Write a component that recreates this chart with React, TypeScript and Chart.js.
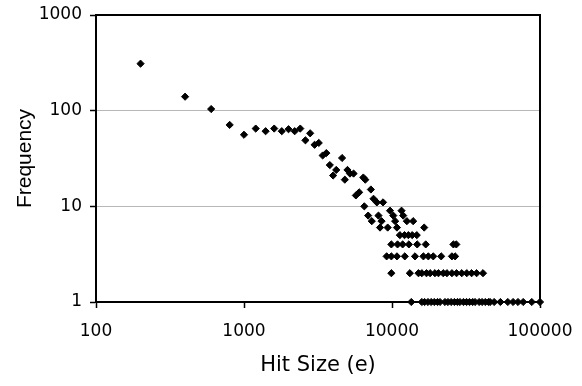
import React, { useEffect, useRef } from "react";
import { Chart, registerables } from "chart.js";

Chart.register(...registerables);

// Main curve (hit size in e, frequency)
const mainHits = [200, 400, 600, 800, 1000, 1200, 1400, 1600, 1800, 2000, 2200, 2400, 2600, 2800, 3000, 3200, 3400, 3600, 3800, 4000, 4200, 4600, 4800, 5000, 5200, 5500, 5700, 6000, 6400, 6600, 6500, 6900, 7200, 7300, 7500, 7900, 8100, 8300, 8500, 8700, 9350, 9700, 10200, 10500, 10800, 11600, 11900, 12600, 13900, 16500];
const mainFreq = [310, 140, 104, 71, 56, 65, 61, 65, 61, 64, 61, 65, 49, 58, 44, 46, 34, 36, 27, 21, 24, 32, 19, 24, 22, 22, 13, 14, 20, 19, 10, 8, 15, 7, 12, 11, 8, 6, 7, 11, 6, 9, 8, 7, 6, 9, 8, 7, 7, 6];

// Hit sizes observed at low frequencies
const freq5Hits = [11300, 12150, 12900, 13700, 14700];
const freq4Hits = [9900, 10900, 11800, 13000, 14800, 16900, 26000, 27200];
const freq3Hits = [9200, 9900, 10800, 12200, 14300, 16300, 17600, 19000, 21500, 25400, 26700];
const freq2Hits = [9900, 13200, 15100, 15900, 17100, 18100, 19500, 20600, 22200, 23500, 25400, 27300, 29600, 32000, 34500, 37300, 41200];
const freq1Hits = [13500, 15900, 16600, 17500, 18400, 19300, 20300, 21100, 22800, 23900, 25100, 26400, 27700, 28800, 30400, 31900, 33400, 35100, 36400, 38800, 40600, 42700, 44900, 46000, 49000, 54000, 60600, 65800, 71000, 77000, 88000, 100000];

const xTicks = [100, 1000, 10000, 100000];
const yTicks = [1, 10, 100, 1000];

const WIDE = "'DejaVu Sans', sans-serif";
const NARROW = "'Liberation Sans', Arial, sans-serif";

export default function App() {
  const ref = useRef<HTMLCanvasElement | null>(null);

  useEffect(() => {
    if (!ref.current) return;
    const points: { x: number; y: number }[] = [];
    mainHits.forEach((x, i) => points.push({ x, y: mainFreq[i] }));
    freq5Hits.forEach((x) => points.push({ x, y: 5 }));
    freq4Hits.forEach((x) => points.push({ x, y: 4 }));
    freq3Hits.forEach((x) => points.push({ x, y: 3 }));
    freq2Hits.forEach((x) => points.push({ x, y: 2 }));
    freq1Hits.forEach((x) => points.push({ x, y: 1 }));

    const boxPlugin = {
      id: "box",
      afterDraw(chart: any) {
        const { ctx, chartArea } = chart;
        ctx.save();
        ctx.strokeStyle = "#000";
        ctx.lineWidth = 2;
        ctx.beginPath();
        ctx.moveTo(chartArea.left, chartArea.top);
        ctx.lineTo(chartArea.right, chartArea.top);
        ctx.lineTo(chartArea.right, chartArea.bottom);
        ctx.stroke();
        ctx.restore();
      },
    };

    const chart = new Chart(ref.current, {
      type: "scatter",
      data: {
        datasets: [
          {
            data: points,
            pointStyle: "rectRot",
            pointRadius: 3.6,
            pointBackgroundColor: "#000",
            pointBorderColor: "#000",
            pointBorderWidth: 1,
            clip: false as any,
          },
        ],
      },
      options: {
        animation: false,
        responsive: true,
        maintainAspectRatio: false,
        layout: { padding: { top: 15, right: 42, left: 0, bottom: 0 } },
        plugins: { legend: { display: false }, tooltip: { enabled: false } },
        scales: {
          x: {
            type: "logarithmic",
            min: 100,
            max: 100000,
            afterBuildTicks: (s: any) => {
              s.ticks = xTicks.map((v) => ({ value: v }));
            },
            afterFit: (s: any) => {
              s.height = 84;
              s.paddingLeft = 0;
              s.paddingRight = 0;
              s.paddingTop = 0;
              s.paddingBottom = 0;
            },
            ticks: {
              callback: (v: any) => String(v),
              color: "#000",
              font: { family: WIDE, size: 17 },
              padding: 13,
              autoSkip: false,
              maxRotation: 0,
            },
            grid: {
              drawOnChartArea: false,
              tickLength: 6,
              tickColor: "#000",
              tickWidth: 1.5,
            },
            border: { display: true, color: "#000", width: 2 },
            title: {
              display: true,
              text: "Hit Size (e)",
              color: "#000",
              font: { family: WIDE, size: 21 },
              padding: { top: 0, bottom: 8 },
            },
          },
          y: {
            type: "logarithmic",
            min: 1,
            max: 1000,
            afterBuildTicks: (s: any) => {
              s.ticks = yTicks.map((v) => ({ value: v }));
            },
            afterFit: (s: any) => {
              s.width = 96;
              s.paddingLeft = 0;
              s.paddingRight = 0;
              s.paddingTop = 0;
              s.paddingBottom = 0;
            },
            ticks: {
              callback: (v: any) => String(v),
              color: "#000",
              font: { family: WIDE, size: 17 },
              padding: 8,
              autoSkip: false,
            },
            grid: {
              color: (c: any) =>
                c.tick && (c.tick.value === 10 || c.tick.value === 100) ? "#b8b8b8" : "rgba(0,0,0,0)",
              tickColor: "#000",
              tickLength: 6,
              lineWidth: 1,
              tickWidth: 1.5,
            },
            border: { display: true, color: "#000", width: 2 },
            title: {
              display: true,
              text: "Frequency",
              color: "#000",
              font: { family: NARROW, size: 21 },
              padding: { top: 13, bottom: 0 },
            },
          },
        },
      },
      plugins: [boxPlugin],
    });
    return () => chart.destroy();
  }, []);

  return (
    <div style={{ position: "fixed", left: 0, top: 0, width: 582, height: 386, background: "#fff" }}>
      <canvas ref={ref} />
    </div>
  );
}
